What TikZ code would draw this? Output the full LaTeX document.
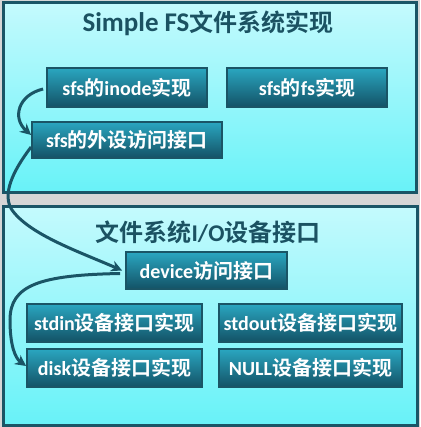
\documentclass[tikz,border=0pt]{standalone}
\usepackage{fontspec}
\setmainfont{Carlito}
\newfontfamily\zhfont{Noto Sans CJK SC}[BoldFont={Noto Sans CJK SC Bold}]
\newcommand{\zh}[1]{{\zhfont #1}}
\usetikzlibrary{arrows.meta,calc}
\definecolor{bggray}{HTML}{D6D6D6}
\definecolor{edge}{HTML}{1A5566}
\definecolor{paneltop}{HTML}{C4FAFD}
\definecolor{panelbot}{HTML}{68F2F8}
\definecolor{boxtop}{HTML}{2AA6C0}
\definecolor{boxbot}{HTML}{135266}
\definecolor{titlec}{HTML}{1B5262}
\tikzset{
  panel/.style={draw=edge, line width=3pt, top color=paneltop, bottom color=panelbot, inner sep=0pt},
  box/.style={draw=edge, line width=1.8pt, top color=boxtop, bottom color=boxbot, text=white,
    font=\fontsize{20}{22}\selectfont\bfseries, inner sep=0pt, minimum height=38pt},
  ttl/.style={text=titlec, font=\fontsize{24}{26}\selectfont\bfseries, inner sep=0pt},
  conn/.style={draw=edge, line width=3pt, -{Stealth[length=11pt,width=11pt]}}
}
\begin{document}
\begin{tikzpicture}[x=1pt,y=-1pt]
\fill[bggray] (0,0) rectangle (420,427);
\useasboundingbox (0,0) rectangle (420,427);
\node[panel, minimum width=413pt, minimum height=190pt] (p1) at (209.5,98) {};
\node[panel, minimum width=414pt, minimum height=218pt] (p2) at (210,316) {};
\node[ttl] (t1) at (208,23) {{\fontsize{27}{28}\selectfont Simple FS}\zh{文件系统实现}};
\node[ttl] (t2) at (208,232) {\zh{文件系统}I/O\zh{设备接口}};
\node[box, minimum width=160pt, minimum height=39pt] (inode) at (127,87.5) {sfs\zh{的}inode\zh{实现}};
\node[box, minimum width=160pt, minimum height=39pt] (fs) at (307,87.5) {sfs\zh{的}fs\zh{实现}};
\node[box, minimum width=190pt, minimum height=36pt] (per) at (127,140) {sfs\zh{的外设访问接口}};
\node[box, minimum width=161pt, minimum height=37pt] (dev) at (206.5,270.5) {device\zh{访问接口}};
\node[box, minimum width=175pt] (stdin) at (114.5,323) {stdin\zh{设备接口实现}};
\node[box, minimum width=183pt] (stdout) at (310.5,323) {stdout\zh{设备接口实现}};
\node[box, minimum width=175pt] (disk) at (114.5,368) {disk\zh{设备接口实现}};
\node[box, minimum width=183pt] (null) at (310.5,368) {NULL\zh{设备接口实现}};
\draw[conn] ($(inode.west)+(-3,1.5)$) .. controls (18,95) and (12,118) .. ($(per.west)+(0,-5)$);
\draw[conn] ($(per.west)+(0,7)$) .. controls (12,172) and (2,195) .. (12,210) .. controls (30,235) and (80,252) .. ($(dev.west)+(-3,0)$);
\draw[conn] ($(dev.west)+(-5,3)$) .. controls (40,275) and (10,285) .. (10,320) .. controls (10,345) and (15,358) .. ($(disk.west)+(0,-2)$);
\end{tikzpicture}
\end{document}
